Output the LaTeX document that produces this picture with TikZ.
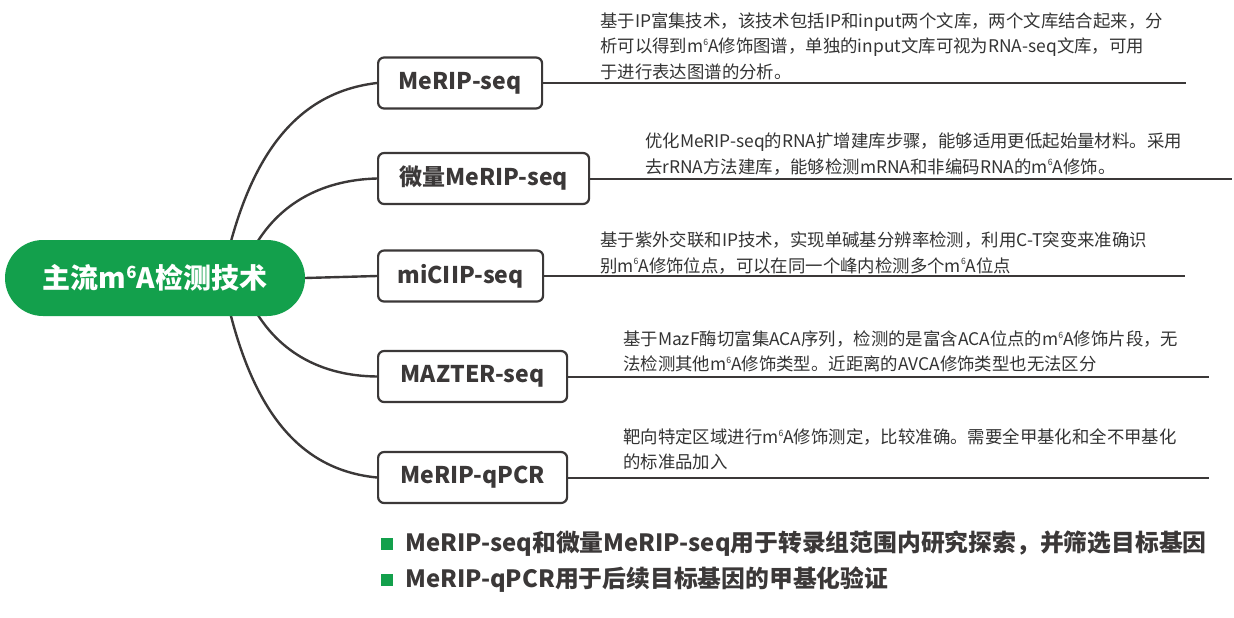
\documentclass[tikz,border=0pt]{standalone}
\usepackage{fontspec}
\setmainfont{Noto Sans CJK SC}
\definecolor{mgreen}{HTML}{13A04C}
\definecolor{ink}{HTML}{3B3838}
\definecolor{txt}{HTML}{333333}
\newcommand\msix{m\raisebox{0.42em}{\scalebox{0.5}{6}}A}
\newcommand\msixroot{m\raisebox{0.36em}{\scalebox{0.6}{6}}A}
\tikzset{
  rootbox/.style={draw=none, fill=mgreen, rounded corners=38pt, minimum width=300pt, minimum height=76pt, text=white, font=\fontsize{28}{32}\selectfont\bfseries, inner sep=0pt},
  techbox/.style={draw=ink, line width=2.2pt, rounded corners=6pt, fill=white, minimum height=51pt, anchor=west, text=ink, font=\fontsize{23}{26}\selectfont\bfseries, inner sep=0pt},
  desc/.style={anchor=west, align=left, inner sep=0pt, text=txt, font=\fontsize{17.4}{25.5}\selectfont},
  link/.style={draw=ink, line width=2.4pt},
  hline/.style={draw=ink, line width=2pt},
  bulletsq/.style={fill=mgreen, draw=none, minimum size=12pt, inner sep=0pt},
  bullettxt/.style={anchor=west, inner sep=0pt, text=ink, font=\fontsize{23.8}{26}\selectfont\bfseries}
}
\begin{document}
\begin{tikzpicture}[x=1pt,y=-1pt]
\useasboundingbox (0,0) rectangle (1234,618);
% anchors for curve starts (hidden behind root)
\coordinate (s1) at (224,270);
\coordinate (s2) at (250,255);
\coordinate (s3) at (250,301);
\coordinate (s4) at (224,286);
% boxes
\node[techbox, minimum width=164pt] (b1) at (377,83) {MeRIP-seq};
\node[techbox, minimum width=211pt] (b2) at (377,178.5) {微量MeRIP-seq};
\node[techbox, minimum width=165pt] (b3) at (377,276) {miCIIP-seq};
\node[techbox, minimum width=189pt] (b4) at (377,376.5) {MAZTER-seq};
\node[techbox, minimum width=189pt] (b5) at (377,477.5) {MeRIP-qPCR};
% curves
\draw[link] (s1) .. controls (250,150) and (300,92) .. (b1.west);
\draw[link] (s2) .. controls (275,205) and (320,180) .. (b2.west);
\draw[link] (s3) .. controls (275,351) and (320,376) .. (b4.west);
\draw[link] (s4) .. controls (250,412) and (300,470) .. (b5.west);
% root
\node[rootbox] (root) at (155,278) {主流\msixroot 检测技术};
\draw[link] (root.east) -- (b3.west);
% end points of horizontal lines
\coordinate (e1) at (1186,83);
\coordinate (e2) at (1232,178.5);
\coordinate (e3) at (1185,276);
\coordinate (e4) at (1209,376.5);
\coordinate (e5) at (1209,477.5);
\draw[hline] (b1.east) -- (e1);
\draw[hline] (b2.east) -- (e2);
\draw[hline] (b3.east) -- (e3);
\draw[hline] (b4.east) -- (e4);
\draw[hline] (b5.east) -- (e5);
% descriptions
\node[desc] (d1) at (600,46) {基于IP富集技术，该技术包括IP和input两个文库，两个文库结合起来，分\\析可以得到\msix 修饰图谱，单独的input文库可视为RNA-seq文库，可用\\于进行表达图谱的分析。};
\node[desc] (d2) at (645,154) {优化MeRIP-seq的RNA扩增建库步骤，能够适用更低起始量材料。采用\\去rRNA方法建库，能够检测mRNA和非编码RNA的\msix 修饰。};
\node[desc] (d3) at (600,253) {基于紫外交联和IP技术，实现单碱基分辨率检测，利用C-T突变来准确识\\别\msix 修饰位点，可以在同一个峰内检测多个\msix 位点};
\node[desc] (d4) at (623,351.5) {基于MazF酶切富集ACA序列，检测的是富含ACA位点的\msix 修饰片段，无\\法检测其他\msix 修饰类型。近距离的AVCA修饰类型也无法区分};
\node[desc] (d5) at (623,449.5) {靶向特定区域进行\msix 修饰测定，比较准确。需要全甲基化和全不甲基化\\的标准品加入};
% bullets
\node[bulletsq] (q1) at (387,544) {};
\node[bullettxt] (t1) at (405,544) {MeRIP-seq和微量MeRIP-seq用于转录组范围内研究探索，并筛选目标基因};
\node[bulletsq] (q2) at (387,580) {};
\node[bullettxt] (t2) at (405,580) {MeRIP-qPCR用于后续目标基因的甲基化验证};
\end{tikzpicture}
\end{document}
